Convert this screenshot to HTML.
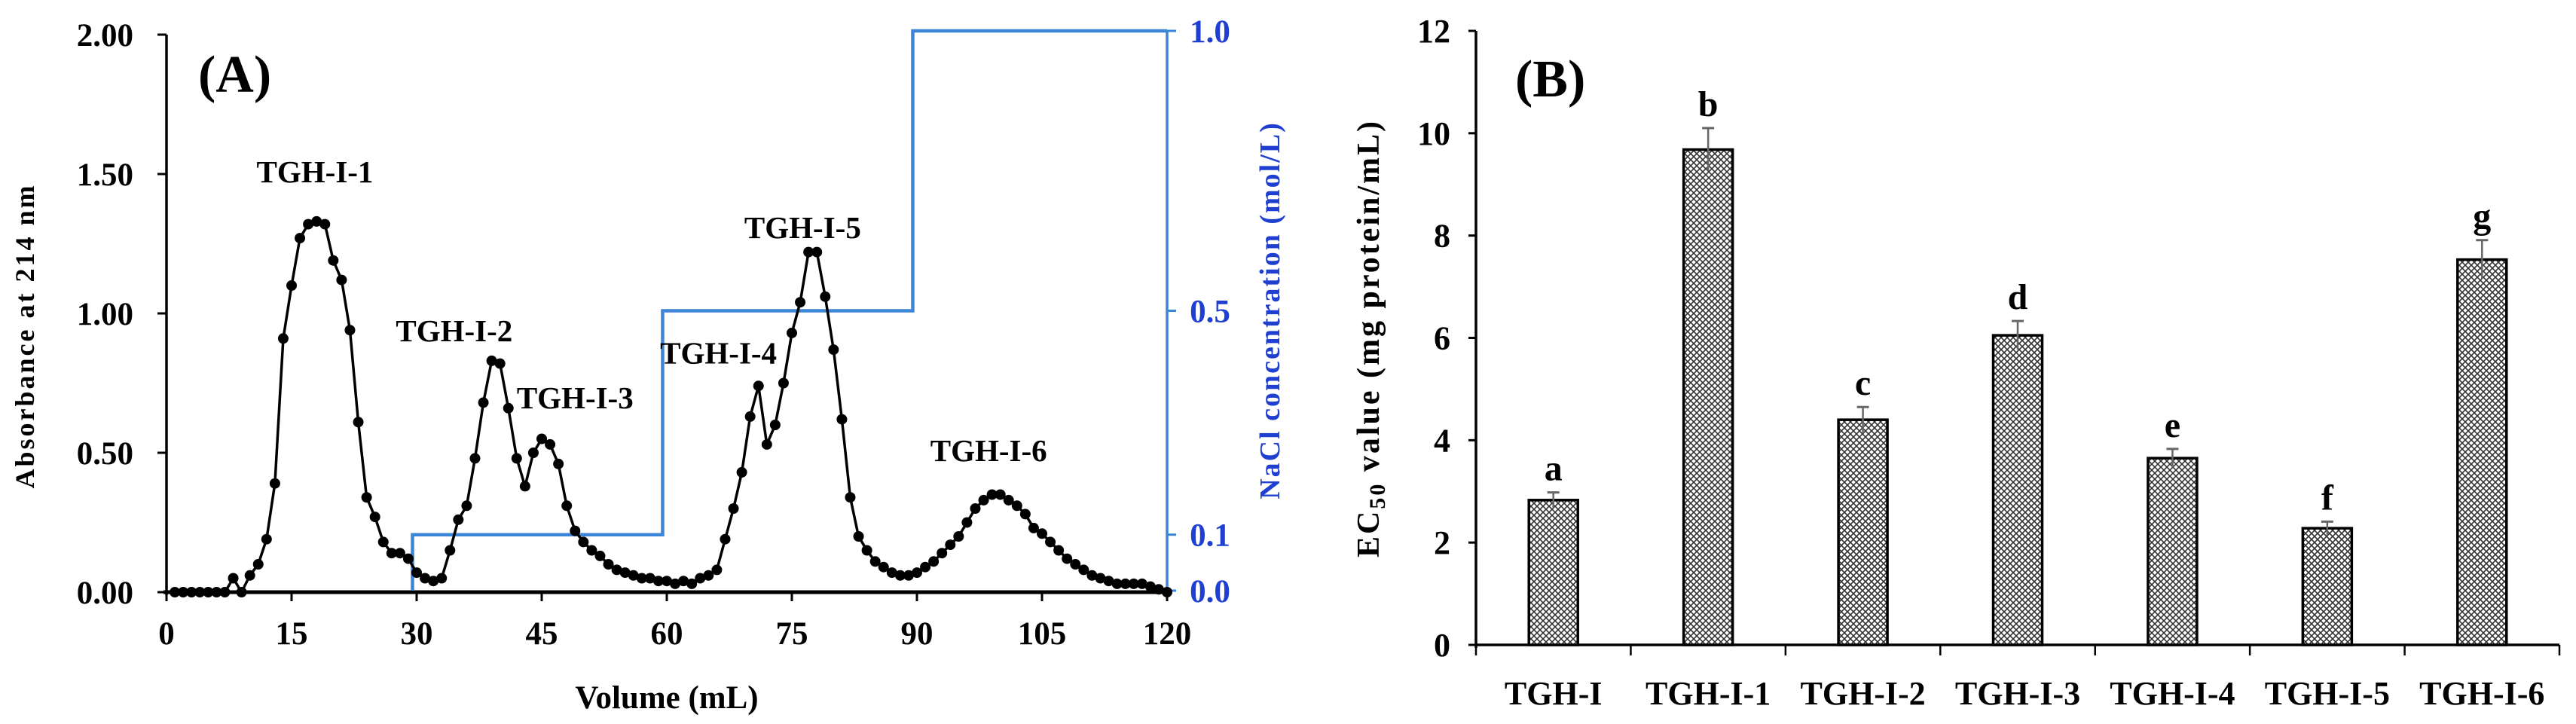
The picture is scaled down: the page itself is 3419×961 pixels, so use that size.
<!DOCTYPE html>
<html><head><meta charset="utf-8"><style>
html,body{margin:0;padding:0;background:#fff;}
svg{display:block;font-family:"Liberation Serif",serif;font-weight:bold;}
</style></head><body>
<svg id="chart" width="3419" height="961" viewBox="0 0 3419 961" xmlns="http://www.w3.org/2000/svg">
<defs>
<pattern id="hatch" width="8" height="8" patternUnits="userSpaceOnUse">
<rect width="8" height="8" fill="#fff"/>
<path d="M0,0 L8,8 M8,0 L0,8" stroke="#333" stroke-width="1.6"/>
</pattern>
</defs>
<g id="panelA"></g>
<g id="panelB"></g>
</svg>
<script>
// Panel A data
const volumes = [];
for (let i = 0; i <= 119; i++) volumes.push(i + 1);
const absorbance = [0,0,0,0,0,0,0,0.05,0,0.06,0.1,0.19,0.39,0.91,1.1,1.27,1.32,1.33,1.32,1.19,1.12,0.94,0.61,0.34,0.27,0.18,0.14,0.14,0.12,0.07,0.05,0.04,0.05,0.15,0.26,0.31,0.48,0.68,0.83,0.82,0.66,0.48,0.38,0.5,0.55,0.53,0.46,0.31,0.22,0.18,0.15,0.13,0.1,0.08,0.07,0.06,0.05,0.05,0.04,0.04,0.03,0.04,0.03,0.05,0.06,0.08,0.19,0.3,0.43,0.63,0.74,0.53,0.6,0.75,0.93,1.04,1.22,1.22,1.06,0.87,0.62,0.34,0.2,0.15,0.11,0.09,0.07,0.06,0.06,0.07,0.09,0.11,0.14,0.17,0.2,0.25,0.3,0.33,0.35,0.35,0.33,0.31,0.28,0.23,0.21,0.18,0.15,0.12,0.1,0.08,0.06,0.05,0.04,0.03,0.03,0.03,0.03,0.02,0.01,0];
const naclSteps = [[29.5,0],[29.5,0.1],[59.5,0.1],[59.5,0.5],[89.5,0.5],[89.5,1.0],[120,1.0]];
const xTicksA = [0,15,30,45,60,75,90,105,120];
const yTicksA = ["0.00","0.50","1.00","1.50","2.00"];
const yTicksR = [0,0.1,0.5,1.0];
const peakNames = ["TGH-I-1","TGH-I-2","TGH-I-3","TGH-I-4","TGH-I-5","TGH-I-6"];
const peakPos = [[17.8,1.47],[34.5,0.90],[49.0,0.66],[66.2,0.82],[76.3,1.27],[98.6,0.47]];
// Panel B data
const categories = ["TGH-I","TGH-I-1","TGH-I-2","TGH-I-3","TGH-I-4","TGH-I-5","TGH-I-6"];
const ec50 = [2.83,9.68,4.4,6.05,3.65,2.28,7.53];
const ec50err = [0.15,0.42,0.25,0.28,0.18,0.13,0.38];
const sigLetters = ["a","b","c","d","e","f","g"];
const yTicksB = [0,2,4,6,8,10,12];

const NS = "http://www.w3.org/2000/svg";
function mk(parent, tag, attrs, text){const e=document.createElementNS(NS,tag);for(const k in attrs)e.setAttribute(k,attrs[k]);if(text!==undefined)e.textContent=text;parent.appendChild(e);return e;}

// ---- Panel A
const A = document.getElementById('panelA');
const ax = v => 221 + v * (1549-221)/120;
const ay = v => 786 - v * (786-46)/2;
const ry = v => 784 - v * (784-41)/1.0;

let e;
e = mk(A,'line',{x1:221,y1:46,x2:221,y2:790,stroke:'#000','stroke-width':3.5});


e = mk(A,'line',{x1:217,y1:786,x2:1549,y2:786,stroke:'#000','stroke-width':5});


e = mk(A,'line',{x1:1549,y1:41,x2:1549,y2:786,stroke:'#3d85d6','stroke-width':3.5});



xTicksA.forEach(t=>{
  mk(A,'line',{x1:ax(t),y1:786,x2:ax(t),y2:798,stroke:'#000','stroke-width':3});
  e = mk(A,'text',{x:ax(t),y:855,'font-size':43,'text-anchor':'middle'},String(t));
  
  
});
yTicksA.forEach(t=>{
  const y = ay(parseFloat(t));
  mk(A,'line',{x1:209,y1:y,x2:221,y2:y,stroke:'#000','stroke-width':3});
  e = mk(A,'text',{x:177,y:y+15,'font-size':43,'text-anchor':'end'},t);
  
  
});
yTicksR.forEach(t=>{
  const y = ry(t);
  mk(A,'line',{x1:1549,y1:y,x2:1561,y2:y,stroke:'#3d85d6','stroke-width':3});
  e = mk(A,'text',{x:1606,y:y+15,'font-size':43,'text-anchor':'middle',fill:'#1f3fd0'},t.toFixed(1));
  
  
});

e = mk(A,'polyline',{points:naclSteps.map(p=>ax(p[0])+','+ry(p[1])).join(' '),fill:'none',stroke:'#3d85d6','stroke-width':4.5});



e = mk(A,'polyline',{points:volumes.map((v,i)=>ax(v)+','+ay(absorbance[i])).join(' '),fill:'none',stroke:'#000','stroke-width':3.5});


volumes.forEach((v,i)=>{
  e = mk(A,'circle',{cx:ax(v),cy:ay(absorbance[i]),r:7,fill:'#000'});
  
  
});
peakNames.forEach((n,i)=>{
  e = mk(A,'text',{x:ax(peakPos[i][0]),y:ay(peakPos[i][1]),'font-size':41,'text-anchor':'middle'},n);
  
  
});
e = mk(A,'text',{x:263,y:122,'font-size':70},'(A)');


e = mk(A,'text',{x:885,y:940,'font-size':43,'text-anchor':'middle'},'Volume (mL)');


e = mk(A,'text',{x:0,y:0,'font-size':36,'text-anchor':'middle','letter-spacing':3,transform:'translate(45,446) rotate(-90)'},'Absorbance at 214 nm');


e = mk(A,'text',{x:0,y:0,'font-size':38,'text-anchor':'middle','letter-spacing':2,fill:'#1f3fd0',transform:'translate(1698,412) rotate(-90)'},'NaCl concentration (mol/L)');



// ---- Panel B
const B = document.getElementById('panelB');
const bx0 = 1959, bx1 = 3397;
const band = (bx1-bx0)/categories.length;
const bx = i => bx0 + band*(i+0.5);
const by = v => 856 - v*(856-41)/12;
e = mk(B,'line',{x1:bx0,y1:41,x2:bx0,y2:860,stroke:'#000','stroke-width':3.5});


e = mk(B,'line',{x1:bx0,y1:856,x2:bx1,y2:856,stroke:'#000','stroke-width':3.5});


yTicksB.forEach(t=>{
  mk(B,'line',{x1:bx0-10,y1:by(t),x2:bx0,y2:by(t),stroke:'#000','stroke-width':3});
  e = mk(B,'text',{x:1925,y:by(t)+15,'font-size':44,'text-anchor':'end'},String(t));
  
  
});
for(let i=0;i<=categories.length;i++){
  mk(B,'line',{x1:bx0+band*i,y1:856,x2:bx0+band*i,y2:870,stroke:'#000','stroke-width':2.5});
}
categories.forEach((c,i)=>{
  const w=65, x=bx(i)-w/2, y=by(ec50[i]);
  e = mk(B,'rect',{x:x,y:y,width:w,height:856-y,fill:'url(#hatch)',stroke:'#000','stroke-width':3.5});
  
  
  const ye = by(ec50[i]+ec50err[i]);
  mk(B,'line',{x1:bx(i),y1:ye,x2:bx(i),y2:by(ec50[i]-ec50err[i]),stroke:'#666','stroke-width':2.5});
  mk(B,'line',{x1:bx(i)-8,y1:ye,x2:bx(i)+8,y2:ye,stroke:'#666','stroke-width':3});
  e = mk(B,'text',{x:bx(i),y:ye-16,'font-size':48,'text-anchor':'middle'},sigLetters[i]);
  
  
  e = mk(B,'text',{x:bx(i),y:935,'font-size':44,'text-anchor':'middle'},c);
  
  
});
e = mk(B,'text',{x:2011,y:128,'font-size':70},'(B)');


const t = mk(B,'text',{x:0,y:0,'font-size':42,'text-anchor':'middle','letter-spacing':3,transform:'translate(1830,449) rotate(-90)'});


mk(t,'tspan',{},'EC');
mk(t,'tspan',{'font-size':30,dy:8},'50');
mk(t,'tspan',{dy:-8},' value (mg protein/mL)');
</script>
</body></html>
